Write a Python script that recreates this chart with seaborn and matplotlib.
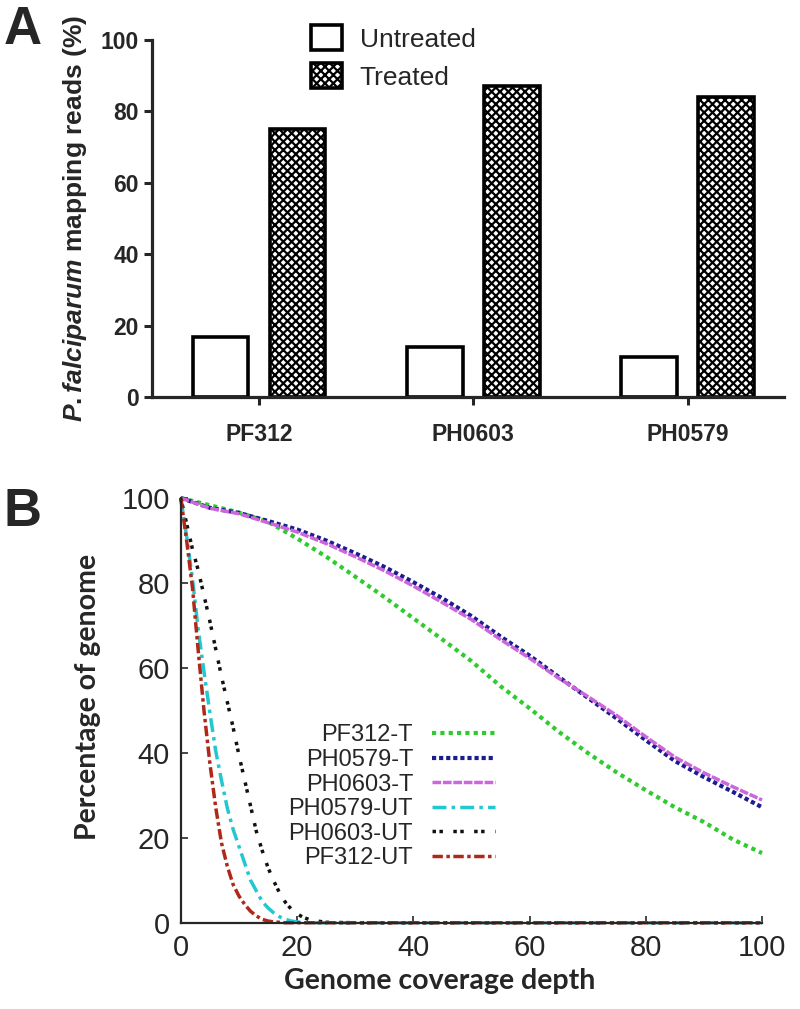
import pandas as pd
import seaborn as sns
import matplotlib.pyplot as plt

# Panel A: percentage of reads mapping to P. falciparum
samples = ['PF312', 'PH0603', 'PH0579']
conditions = ['Untreated', 'Treated']
untreated = [16.9, 14.0, 11.2]
treated = [75.1, 87.2, 84.0]

# Panel B: genome coverage curves
depth_t = [0, 5, 10, 15, 20, 25, 30, 35, 40, 45, 50, 55, 60, 65, 70, 75, 80, 85, 90, 95, 100]
pf312_t = [100, 98.3, 96.6, 94.4, 90.5, 86.2, 81.5, 76.7, 71.7, 66.7, 61.6, 55.7, 50.5, 45.0, 40.0, 35.4, 31.2, 27.2, 23.7, 19.6, 16.4]
ph0579_t = [100, 97.7, 96.5, 94.6, 92.6, 90.0, 87.0, 83.8, 80.2, 76.4, 72.2, 67.4, 62.9, 57.9, 53.0, 48.1, 43.0, 38.1, 34.3, 30.8, 27.2]
ph0603_t = [100, 97.6, 96.3, 94.2, 92.0, 89.3, 86.2, 82.9, 79.3, 75.4, 71.4, 66.7, 62.3, 57.6, 53.3, 48.8, 43.8, 39.0, 35.3, 32.0, 28.9]

depth_ut = [0, 1, 2, 3, 4, 5, 6, 7, 8, 9, 10, 11, 12, 13, 14, 15, 16, 17, 18, 19, 20,
            21, 22, 23, 24, 25, 30, 40, 50, 60, 70, 80, 90, 100]
ph0579_ut = [100, 91, 81, 69, 59, 49.5, 40.5, 33.5, 27, 22, 18, 14, 10, 7.5, 5, 3.5, 2.3, 1.4, 0.8, 0.4, 0.2,
             0.1, 0, 0, 0, 0, 0, 0, 0, 0, 0, 0, 0, 0]
ph0603_ut = [100, 94, 88, 83, 77, 71, 64.5, 58, 52, 46, 39.5, 33.5, 27.5, 21.5, 17, 13, 9.8, 7, 4.8, 3.2, 2.1,
             1.3, 0.8, 0.5, 0.3, 0.1, 0, 0, 0, 0, 0, 0, 0, 0]
pf312_ut = [100, 90, 79, 64, 49.8, 37.6, 27.2, 18.8, 13.3, 9.0, 6.3, 4.3, 2.7, 1.6, 0.8, 0.4, 0.2, 0.1, 0, 0, 0,
            0, 0, 0, 0, 0, 0, 0, 0, 0, 0, 0, 0, 0]

sns.set_style('ticks')
plt.rcParams['font.family'] = ['Liberation Sans', 'DejaVu Sans']
plt.rcParams['hatch.linewidth'] = 1.6
plt.rcParams['mathtext.fontset'] = 'custom'
plt.rcParams['mathtext.it'] = 'Liberation Sans:italic:bold'
plt.rcParams['mathtext.rm'] = 'Liberation Sans:bold'

fig = plt.figure(figsize=(8, 10.09), dpi=100)

# ---------- Panel A ----------
axA = fig.add_axes([0.19, 0.6065, 0.79, 0.3538])
df = pd.DataFrame({
    'sample': samples * 2,
    'condition': [conditions[0]] * 3 + [conditions[1]] * 3,
    'reads': untreated + treated,
})
sns.barplot(data=df, x='sample', y='reads', hue='condition', order=samples,
            hue_order=conditions, width=0.72, gap=0.28, palette=['white', 'white'],
            edgecolor='black', linewidth=2.6, legend=False, ax=axA)
for bar in axA.containers[1]:
    bar.set_hatch('xxxx')

axA.set_ylim(0, 100)
axA.set_xlim(-0.5, 2.45)
axA.set_yticks([0, 20, 40, 60, 80, 100])
axA.set_xlabel('')
axA.set_ylabel(r'$P. falciparum$ mapping reads (%)', fontsize=19, fontweight='bold', labelpad=8)
for s in ['top', 'right']:
    axA.spines[s].set_visible(False)
for s in ['left', 'bottom']:
    axA.spines[s].set_linewidth(2.3)
axA.tick_params(axis='both', direction='out', width=2.2, length=6, labelsize=16.5)
axA.tick_params(axis='x', pad=13)
for lab in axA.get_xticklabels() + axA.get_yticklabels():
    lab.set_fontweight('bold')

axA.legend(axA.containers, conditions, loc='upper left', bbox_to_anchor=(0.372, 0.988),
           bbox_transform=fig.transFigure, frameon=False, fontsize=19, borderpad=0,
           handlelength=1.2, handleheight=1.05, handletextpad=0.65, labelspacing=0.45)

fig.text(0.005, 0.995, 'A', fontsize=38, fontweight='bold', va='top', ha='left')

# ---------- Panel B ----------
axB = fig.add_axes([0.226, 0.0855, 0.7265, 0.4209])
series = [
    ('PF312-T', depth_t, pf312_t, '#2ecc2e', (0, (1, 1)), 3.0),
    ('PH0579-T', depth_t, ph0579_t, '#1c1c8c', (0, (1, 0.7)), 3.0),
    ('PH0603-T', depth_t, ph0603_t, '#cc66dd', (0, (2.5, 0.5)), 2.5),
    ('PH0579-UT', depth_ut, ph0579_ut, '#22c8d0', (0, (4, 1.5, 1, 1.5)), 2.5),
    ('PH0603-UT', depth_ut, ph0603_ut, '#111111', (0, (1, 1, 1, 3)), 2.5),
    ('PF312-UT', depth_ut, pf312_ut, '#b02818', (0, (3, 1, 1, 1)), 2.5),
]
for name, xs, ys, col, ls, lw in series:
    sns.lineplot(x=xs, y=ys, color=col, linestyle=ls, linewidth=lw, label=name,
                 clip_on=False, ax=axB)

axB.set_xlim(0, 100)
axB.set_ylim(0, 100)
axB.set_xticks([0, 20, 40, 60, 80, 100])
axB.set_yticks([0, 20, 40, 60, 80, 100])
for s in ['top', 'right']:
    axB.spines[s].set_visible(False)
for s in ['left', 'bottom']:
    axB.spines[s].set_linewidth(1.6)
axB.tick_params(axis='both', direction='in', width=1.2, length=5, labelsize=21, pad=8)
axB.set_xlabel('Genome coverage depth', fontsize=20.5, fontweight='bold',
               family=['Lato', 'DejaVu Sans'])
axB.xaxis.set_label_coords(0.446, -0.107)
axB.set_ylabel('Percentage of genome', fontsize=20.5, fontweight='bold',
               family=['Lato', 'DejaVu Sans'])
axB.yaxis.set_label_coords(-0.137, 0.531)

axB.legend(loc='upper right', bbox_to_anchor=(0.561, 0.495), frameon=False, fontsize=17,
           markerfirst=False, borderpad=0, handlelength=2.67, handletextpad=0.8,
           labelspacing=0.11)

fig.text(0.004, 0.517, 'B', fontsize=38, fontweight='bold', va='top', ha='left')

fig.savefig('out.png', dpi=100)
